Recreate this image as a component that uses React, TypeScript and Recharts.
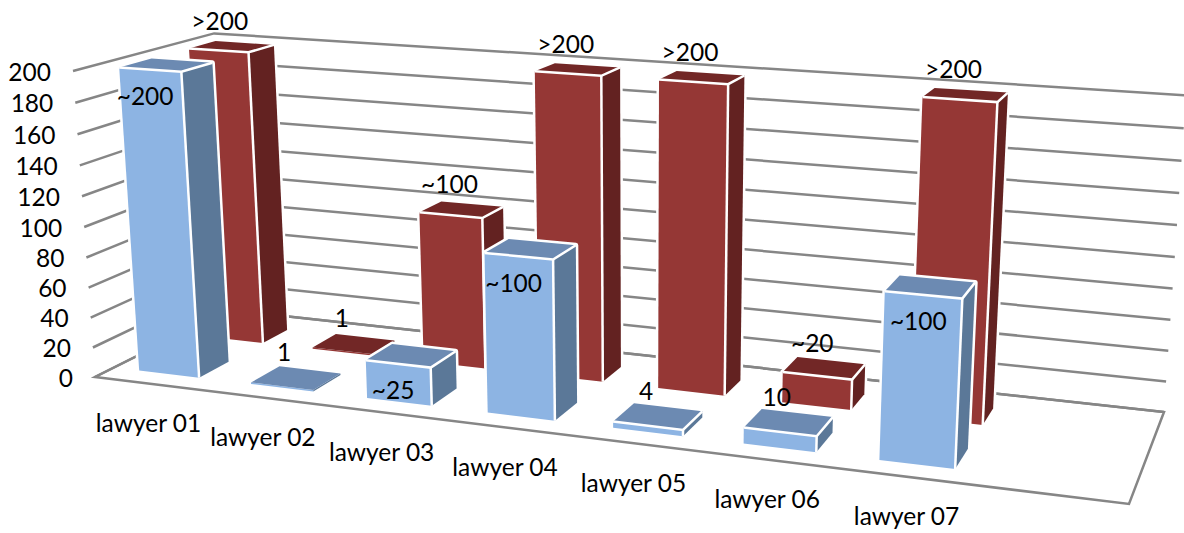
import React from 'react';
import { BarChart, Bar, XAxis, YAxis, CartesianGrid } from 'recharts';

const W = 1184;
const H = 533;
const BAR_SIZE = 80;

// the source chart has an empty eighth slot on the right of the floor
const categories = ['lawyer 01', 'lawyer 02', 'lawyer 03', 'lawyer 04', 'lawyer 05', 'lawyer 06', 'lawyer 07', ''];
const frontValues = [200, 1, 25, 102, 4, 10, 102, null];
const backValues = [200, 1, 102, 200, 200, 20, 200, null];
const frontLabels = ['~200', '1', '~25', '~100', '4', '10', '~100', ''];
const backLabels = ['>200', '1', '~100', '>200', '>200', '~20', '>200', ''];
const yTicks = [0, 20, 40, 60, 80, 100, 120, 140, 160, 180, 200];

const data = categories.map((name, i) => ({
  name,
  front: frontValues[i],
  back: backValues[i],
  frontLabel: frontLabels[i],
  backLabel: backLabels[i],
}));

type Pt = [number, number];

// camera: the floor quad gives a homography, the value axis adds one more column
const makeCamera = (q: Pt[], topLeft: Pt, topRightX: number) => {
  const [[x0, y0], [x1, y1], [x2, y2], [x3, y3]] = q;
  const dx1 = x1 - x2;
  const dx2 = x3 - x2;
  const sx = x0 - x1 + x2 - x3;
  const dy1 = y1 - y2;
  const dy2 = y3 - y2;
  const sy = y0 - y1 + y2 - y3;
  const det = dx1 * dy2 - dx2 * dy1;
  const g = (sx * dy2 - dx2 * sy) / det;
  const h = (dx1 * sy - sx * dy1) / det;
  const wBR = g + h + 1;
  const i = (x2 * wBR + topLeft[0] - x0 - topRightX * wBR) / (topRightX - topLeft[0]);
  const cx = topLeft[0] * (1 + i) - x0;
  const cy = topLeft[1] * (1 + i) - y0;
  return (u: number, v: number, t: number): Pt => {
    const w = g * u + h * v + 1;
    const fx = (x1 - x0 + g * x1) * u + (x3 - x0 + h * x3) * v + x0;
    const fy = (y1 - y0 + g * y1) * u + (y3 - y0 + h * y3) * v + y0;
    const d = w + i * t;
    return [(fx + cx * t) / d, (fy + cy * t) / d];
  };
};

// u along categories, v into the picture, t is share of the value axis
const project = makeCamera([[95, 377], [1129, 504], [1164, 412], [229, 310]], [73, 71], 1186);

const poly = (pts: Pt[]) => pts.map((p) => p[0].toFixed(1) + ',' + p[1].toFixed(1)).join(' ');

const FONT = 'Lato, Carlito, sans-serif';
const FONT_SIZE = 24.5;
const GRID = '#868686';

const rows = {
  front: { v0: 0.13, v1: 0.35, face: '#8DB4E3', top: '#6C8AB2', side: '#5B7898', labelKey: 'frontLabel' },
  back: { v0: 0.62, v1: 0.82, face: '#953735', top: '#722726', side: '#632221', labelKey: 'backLabel' },
};

const Box = (props: any) => {
  const { x, y, width, height, payload, row } = props;
  const cfg = rows[row as 'front' | 'back'];
  const value = payload[row];
  if (value == null) return null;
  const u0 = x / W;
  const u1 = (x + width) / W;
  const t = 1 - y / H;
  const t0 = 1 - (y + height) / H;
  const a = project(u0, cfg.v0, t0);
  const b = project(u1, cfg.v0, t0);
  const c = project(u1, cfg.v1, t0);
  const d = project(u0, cfg.v0, t);
  const e = project(u1, cfg.v0, t);
  const f = project(u1, cfg.v1, t);
  const g = project(u0, cfg.v1, t);
  const inside = row === 'front' && value >= 25;
  const anchor = inside ? project((u0 + u1) / 2, cfg.v0, t) : project((u0 + u1) / 2, (cfg.v0 + cfg.v1) / 2, t);
  const lx = anchor[0] + (inside ? -5 : -12);
  const ly = anchor[1] + (inside ? 26 : -26);
  const thin = value < 2;
  return (
    <g>
      {!thin && <polygon points={poly([a, b, c, f, g, d])} fill="#fff" stroke="#fff" strokeWidth={5} strokeLinejoin="round" />}
      <polygon points={poly([b, c, f, e])} fill={cfg.side} />
      <polygon points={poly([a, b, e, d])} fill={cfg.face} />
      <polygon points={poly([d, e, f, g])} fill={cfg.top} />
      {!thin && <polyline points={poly([d, e, f])} fill="none" stroke="#fff" strokeWidth={2.5} />}
      {!thin && <line x1={e[0]} y1={e[1]} x2={b[0]} y2={b[1]} stroke="#fff" strokeWidth={2.5} />}
      <text x={lx} y={ly} textAnchor="middle" dominantBaseline="central" fontFamily={FONT} fontSize={FONT_SIZE} fill="#000">
        {payload[cfg.labelKey]}
      </text>
    </g>
  );
};

const WallLine = (props: any) => {
  const t = 1 - props.y1 / H;
  const isFloor = Math.abs(t) < 0.001;
  return (
    <g key={props.key}>
      {isFloor && (
        <polygon
          points={poly([project(0, 0, 0), project(1, 0, 0), project(1, 1, 0), project(0, 1, 0)])}
          fill="#fff"
          stroke={GRID}
          strokeWidth={2.5}
        />
      )}
      <polyline
        points={poly([project(0, 0, t), project(0, 1, t), project(1, 1, t)])}
        fill="none"
        stroke={GRID}
        strokeWidth={2.5}
      />
    </g>
  );
};

const CategoryTick = (props: any) => {
  const p = project(props.x / W, 0, 0);
  return (
    <text x={p[0] - 2} y={p[1] + 39} textAnchor="middle" dominantBaseline="central" fontFamily={FONT} fontSize={FONT_SIZE} fill="#000">
      {props.payload.value}
    </text>
  );
};

const ValueTick = (props: any) => {
  const p = project(0, 0, 1 - props.y / H);
  return (
    <text x={p[0] - 22} y={p[1]} textAnchor="end" dominantBaseline="central" fontFamily={FONT} fontSize={FONT_SIZE} fill="#000">
      {props.payload.value}
    </text>
  );
};

export default function App() {
  return (
    <div style={{ position: 'absolute', left: 0, top: 0, width: W, height: H, overflow: 'hidden', background: '#fff' }}>
      <BarChart width={W} height={H} data={data} margin={{ top: 0, right: 0, bottom: 0, left: 0 }} barSize={BAR_SIZE} barGap={-BAR_SIZE}>
        <XAxis dataKey="name" mirror height={30} interval={0} axisLine={false} tickLine={false} tick={<CategoryTick />} />
        <XAxis dataKey="name" xAxisId="back" hide />
        <YAxis mirror width={60} domain={[0, 200]} ticks={yTicks} interval={0} axisLine={false} tickLine={false} tick={<ValueTick />} />
        <CartesianGrid vertical={false} horizontal={(p: any) => <WallLine {...p} />} />
        <Bar dataKey="back" xAxisId="back" isAnimationActive={false} shape={(p: any) => <Box {...p} row="back" />} />
        <Bar dataKey="front" isAnimationActive={false} shape={(p: any) => <Box {...p} row="front" />} />
      </BarChart>
    </div>
  );
}
